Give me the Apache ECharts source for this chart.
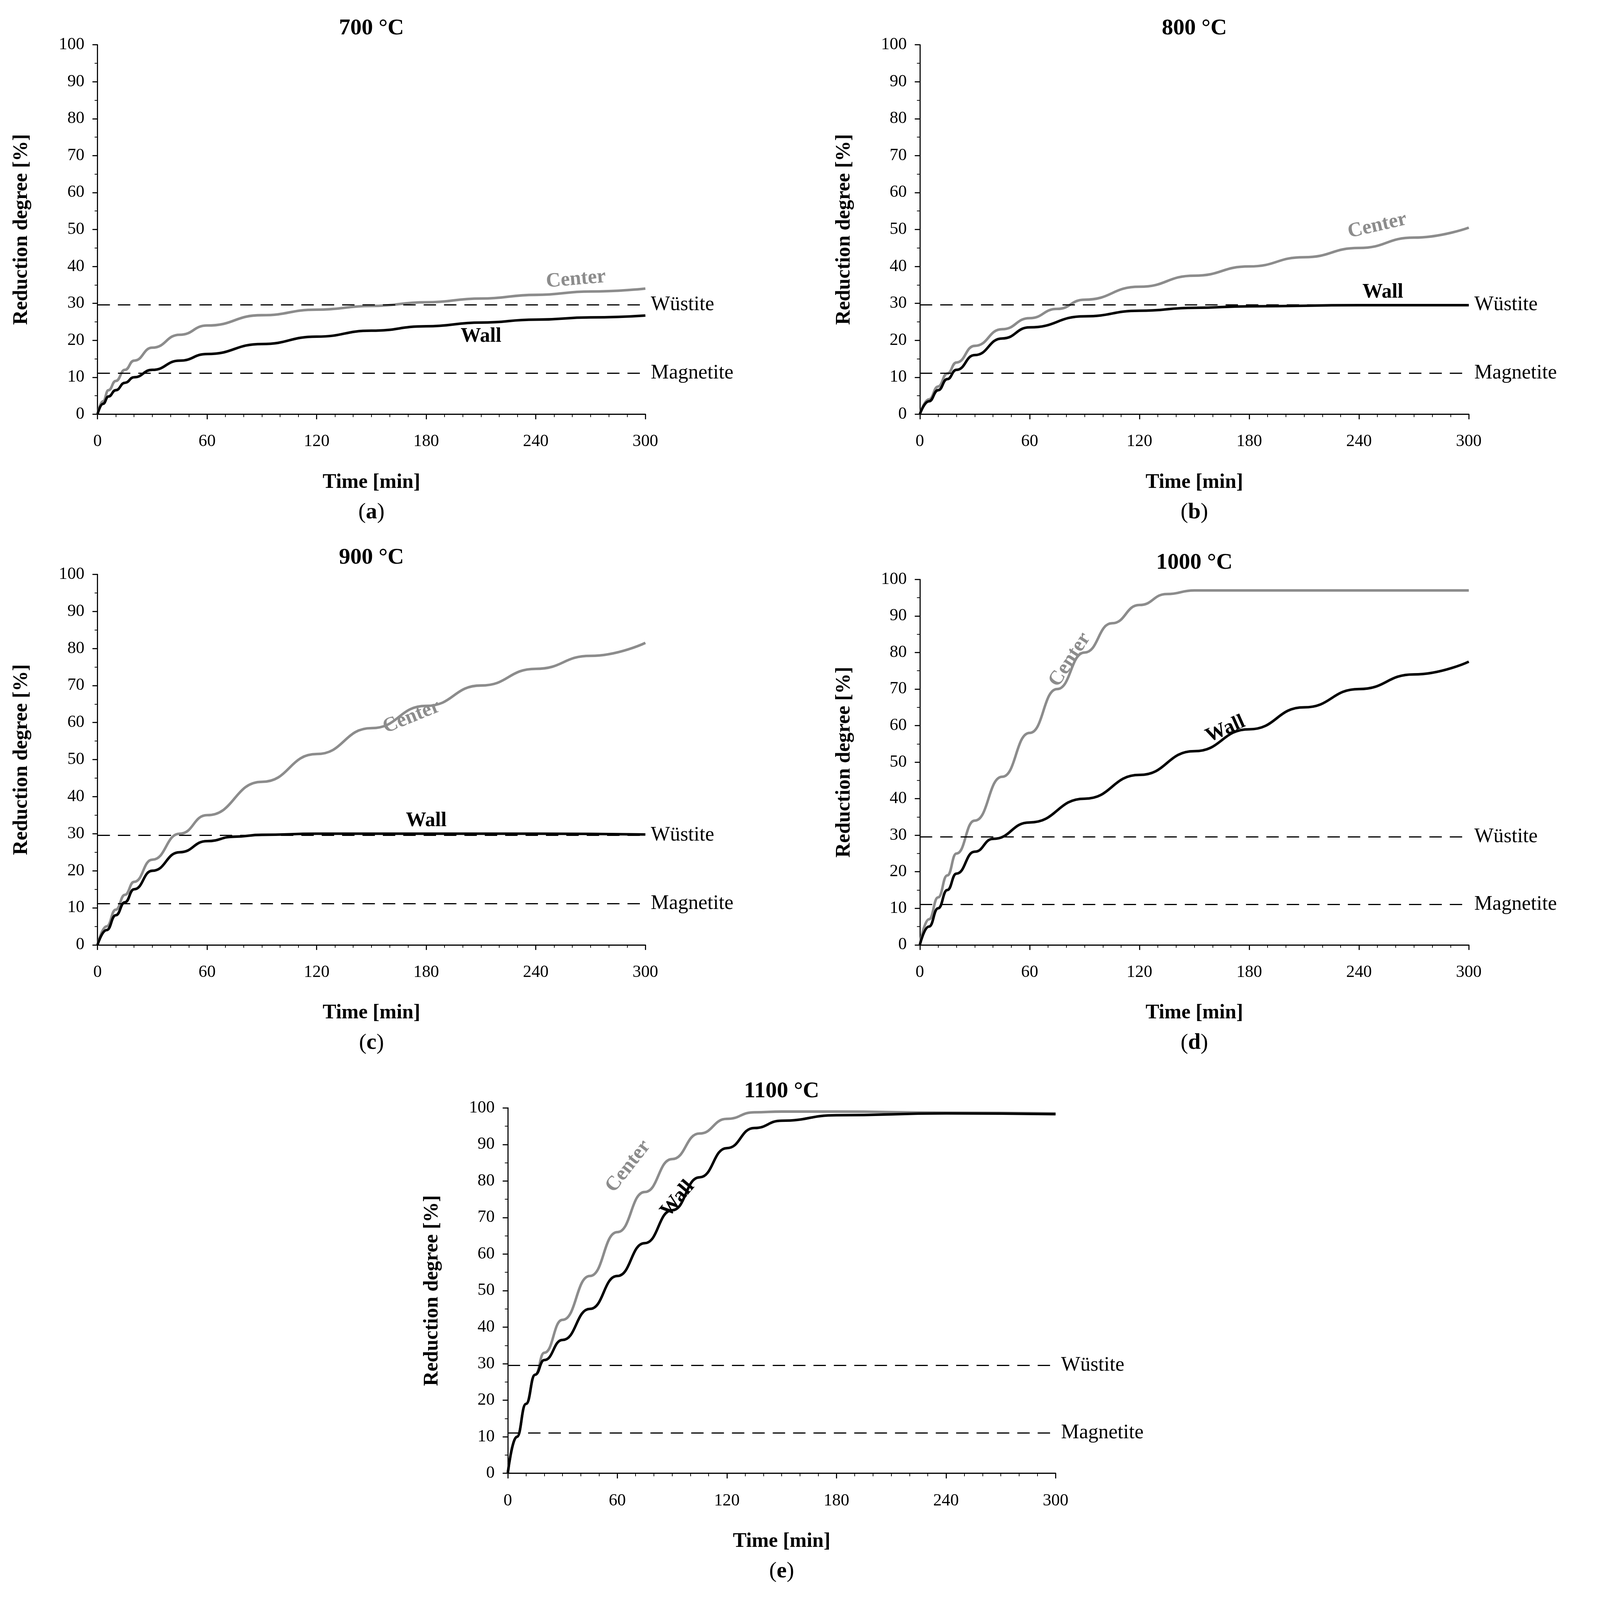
<!DOCTYPE html>
<html>
<head>
<meta charset="utf-8">
<script src="https://cdn.jsdelivr.net/npm/echarts@6/dist/echarts.min.js"></script>
<style>html,body{margin:0;padding:0;background:#fff;overflow:hidden}#main{width:100vw;height:100vh}</style>
</head>
<body>
<div id="main"></div>
<script>
// 数据：时间 [min] 与还原度 [%]
var titles = ['700 °C', '800 °C', '900 °C', '1000 °C', '1100 °C'];
var letters = ['a', 'b', 'c', 'd', 'e'];
var xTicks = [0, 60, 120, 180, 240, 300];
var wustite = 29.6;
var magnetite = 11.1;

var centerA = [[0,0],[3,3.5],[6,6.5],[10,9],[15,12],[20,14.5],[30,18],[45,21.5],[60,24],[90,26.8],[120,28.3],[150,29.3],[180,30.3],[210,31.3],[240,32.3],[270,33.2],[300,34]];
var wallA = [[0,0],[3,2.8],[6,4.8],[10,6.5],[15,8.5],[20,10],[30,12],[45,14.5],[60,16.3],[90,19],[120,21],[150,22.6],[180,23.8],[210,24.8],[240,25.6],[270,26.2],[300,26.7]];
var centerB = [[0,0],[5,4],[10,7.5],[15,11],[20,14],[30,18.5],[45,23],[60,26],[75,28.5],[90,31],[120,34.5],[150,37.5],[180,40],[210,42.5],[240,45],[270,47.8],[300,50.5]];
var wallB = [[0,0],[5,3.5],[10,6.5],[15,9.5],[20,12],[30,16],[45,20.5],[60,23.5],[90,26.5],[120,28],[150,28.8],[180,29.2],[240,29.5],[300,29.5]];
var centerC = [[0,0],[5,5],[10,9.5],[15,13.5],[20,17],[30,23],[45,30],[60,35],[90,44],[120,51.5],[150,58.5],[180,64.5],[210,70],[240,74.5],[270,78],[300,81.5]];
var wallC = [[0,0],[5,4],[10,8],[15,11.5],[20,15],[30,20],[45,25],[60,28],[75,29.2],[90,29.7],[120,30],[180,30],[240,30],[300,29.8]];
var centerD = [[0,0],[5,7],[10,13],[15,19],[20,25],[30,34],[45,46],[60,58],[75,70],[90,80],[105,88],[120,93],[135,96],[150,97],[180,97],[240,97],[300,97]];
var wallD = [[0,0],[5,5],[10,10],[15,15],[20,19.5],[30,25.5],[40,29],[60,33.5],[90,40],[120,46.5],[150,53],[180,59],[210,65],[240,70],[270,74],[300,77.5]];
var centerE = [[0,0],[5,10],[10,19],[15,27],[20,33],[30,42],[45,54],[60,66],[75,77],[90,86],[105,93],[120,97],[135,98.8],[150,99],[180,99],[240,98.7],[300,98.5]];
var wallE = [[0,0],[5,10],[10,19],[15,27],[20,31],[30,36.5],[45,45],[60,54],[75,63],[90,72],[105,81],[120,89],[135,94.5],[150,96.5],[180,98],[240,98.5],[300,98.3]];

var centers = [centerA, centerB, centerC, centerD, centerE];
var walls = [wallA, wallB, wallC, wallD, wallE];
// 曲线标注位置 [x, y, 旋转角]
var centerLbl = [[262,36.5,5],[250,51,13],[172,61.5,22],[82,78,57],[66,84,52]];
var wallLbl = [[210,21,0],[253,33,0],[180,33.5,0],[167,59,24],[93,75,50]];

// 各子图位置 (以 4232x4396 为基准)
var boxes = [
  {l:258, t:123, w:1449, h:1015},
  {l:2433, t:123, w:1452, h:1015},
  {l:258, t:1578, w:1449, h:1018},
  {l:2433, t:1592, w:1452, h:1004},
  {l:1343, t:3044, w:1449, h:1004}
];

var dom = document.getElementById('main');
var W = dom.clientWidth || 4232, H = dom.clientHeight || 4396;
var sx = W / 4232, sy = H / 4396, s = Math.min(sx, sy);

var FONT = 'Liberation Serif';
var grids = [], xAxes = [], yAxes = [], series = [], graphics = [];

for (var i = 0; i < 5; i++) {
  var b = boxes[i];
  grids.push({left:b.l*sx, top:b.t*sy, width:b.w*sx, height:b.h*sy});
  xAxes.push({
    type:'value', gridIndex:i, min:0, max:300, interval:60,
    name:'Time [min]', nameLocation:'middle', nameGap:160*s,
    nameTextStyle:{fontFamily:FONT, fontSize:56*s, fontWeight:'bold', color:'#000'},
    axisLine:{lineStyle:{color:'#000', width:3*s}},
    axisTick:{show:true, length:14*s, lineStyle:{color:'#000', width:3*s}},
    minorTick:{show:true, splitNumber:6, length:8*s, lineStyle:{color:'#000', width:2*s}},
    axisLabel:{fontFamily:FONT, fontSize:47*s, color:'#000', margin:52*s},
    splitLine:{show:false}
  });
  yAxes.push({
    type:'value', gridIndex:i, min:0, max:100, interval:10,
    name:'Reduction degree [%]', nameLocation:'middle', nameGap:180*s,
    nameTextStyle:{fontFamily:FONT, fontSize:56*s, fontWeight:'bold', color:'#000'},
    axisLine:{show:true, lineStyle:{color:'#000', width:3*s}},
    axisTick:{show:true, length:14*s, lineStyle:{color:'#000', width:3*s}},
    minorTick:{show:true, splitNumber:2, length:8*s, lineStyle:{color:'#000', width:2*s}},
    axisLabel:{fontFamily:FONT, fontSize:47*s, color:'#000', margin:36*s},
    splitLine:{show:false}
  });
  var cl = centerLbl[i], wl = wallLbl[i];
  series.push({
    type:'line', xAxisIndex:i, yAxisIndex:i, data:centers[i], smooth:0.5, smoothMonotone:'x',
    showSymbol:false, lineStyle:{color:'#8c8c8c', width:7*s}, z:3,
    markPoint:{symbolSize:0, data:[{coord:[cl[0], cl[1]], label:{show:true, formatter:'Center', rotate:cl[2],
      fontFamily:FONT, fontSize:56*s, fontWeight:'bold', color:'#8c8c8c'}}]}
  });
  series.push({
    type:'line', xAxisIndex:i, yAxisIndex:i, data:walls[i], smooth:0.5, smoothMonotone:'x',
    showSymbol:false, lineStyle:{color:'#000', width:7*s}, z:4,
    markPoint:{symbolSize:0, data:[{coord:[wl[0], wl[1]], label:{show:true, formatter:'Wall', rotate:wl[2],
      fontFamily:FONT, fontSize:56*s, fontWeight:'bold', color:'#000'}}]}
  });
  series.push({
    type:'line', xAxisIndex:i, yAxisIndex:i, data:[], silent:true,
    markLine:{symbol:'none', silent:true,
      lineStyle:{type:[34*s,22*s], color:'#000', width:3*s},
      label:{position:'end', fontFamily:FONT, fontSize:56*s, color:'#000', distance:15*s},
      data:[
        {yAxis:wustite, label:{formatter:'Wüstite'}},
        {yAxis:magnetite, label:{formatter:'Magnetite'}}
      ]}
  });
  graphics.push({type:'text', x:(b.l + b.w/2)*sx, y:(b.t - 45)*sy,
    style:{text:titles[i], font:'bold ' + Math.round(62*s) + 'px "' + FONT + '"', fill:'#000',
      textAlign:'center', textVerticalAlign:'middle'}});
  graphics.push({type:'text', x:(b.l + b.w/2)*sx, y:(b.t + b.h + 270)*sy,
    style:{text:'{n|(}{b|' + letters[i] + '}{n|)}', align:'center', verticalAlign:'middle', rich:{
      n:{fontFamily:FONT, fontSize:62*s, fill:'#000'},
      b:{fontFamily:FONT, fontSize:62*s, fontWeight:'bold', fill:'#000'}}}});
}

var chart = echarts.init(dom);
chart.setOption({
  backgroundColor:'#fff',
  animation:false,
  grid:grids, xAxis:xAxes, yAxis:yAxes, series:series, graphic:graphics
});
</script>
</body>
</html>
